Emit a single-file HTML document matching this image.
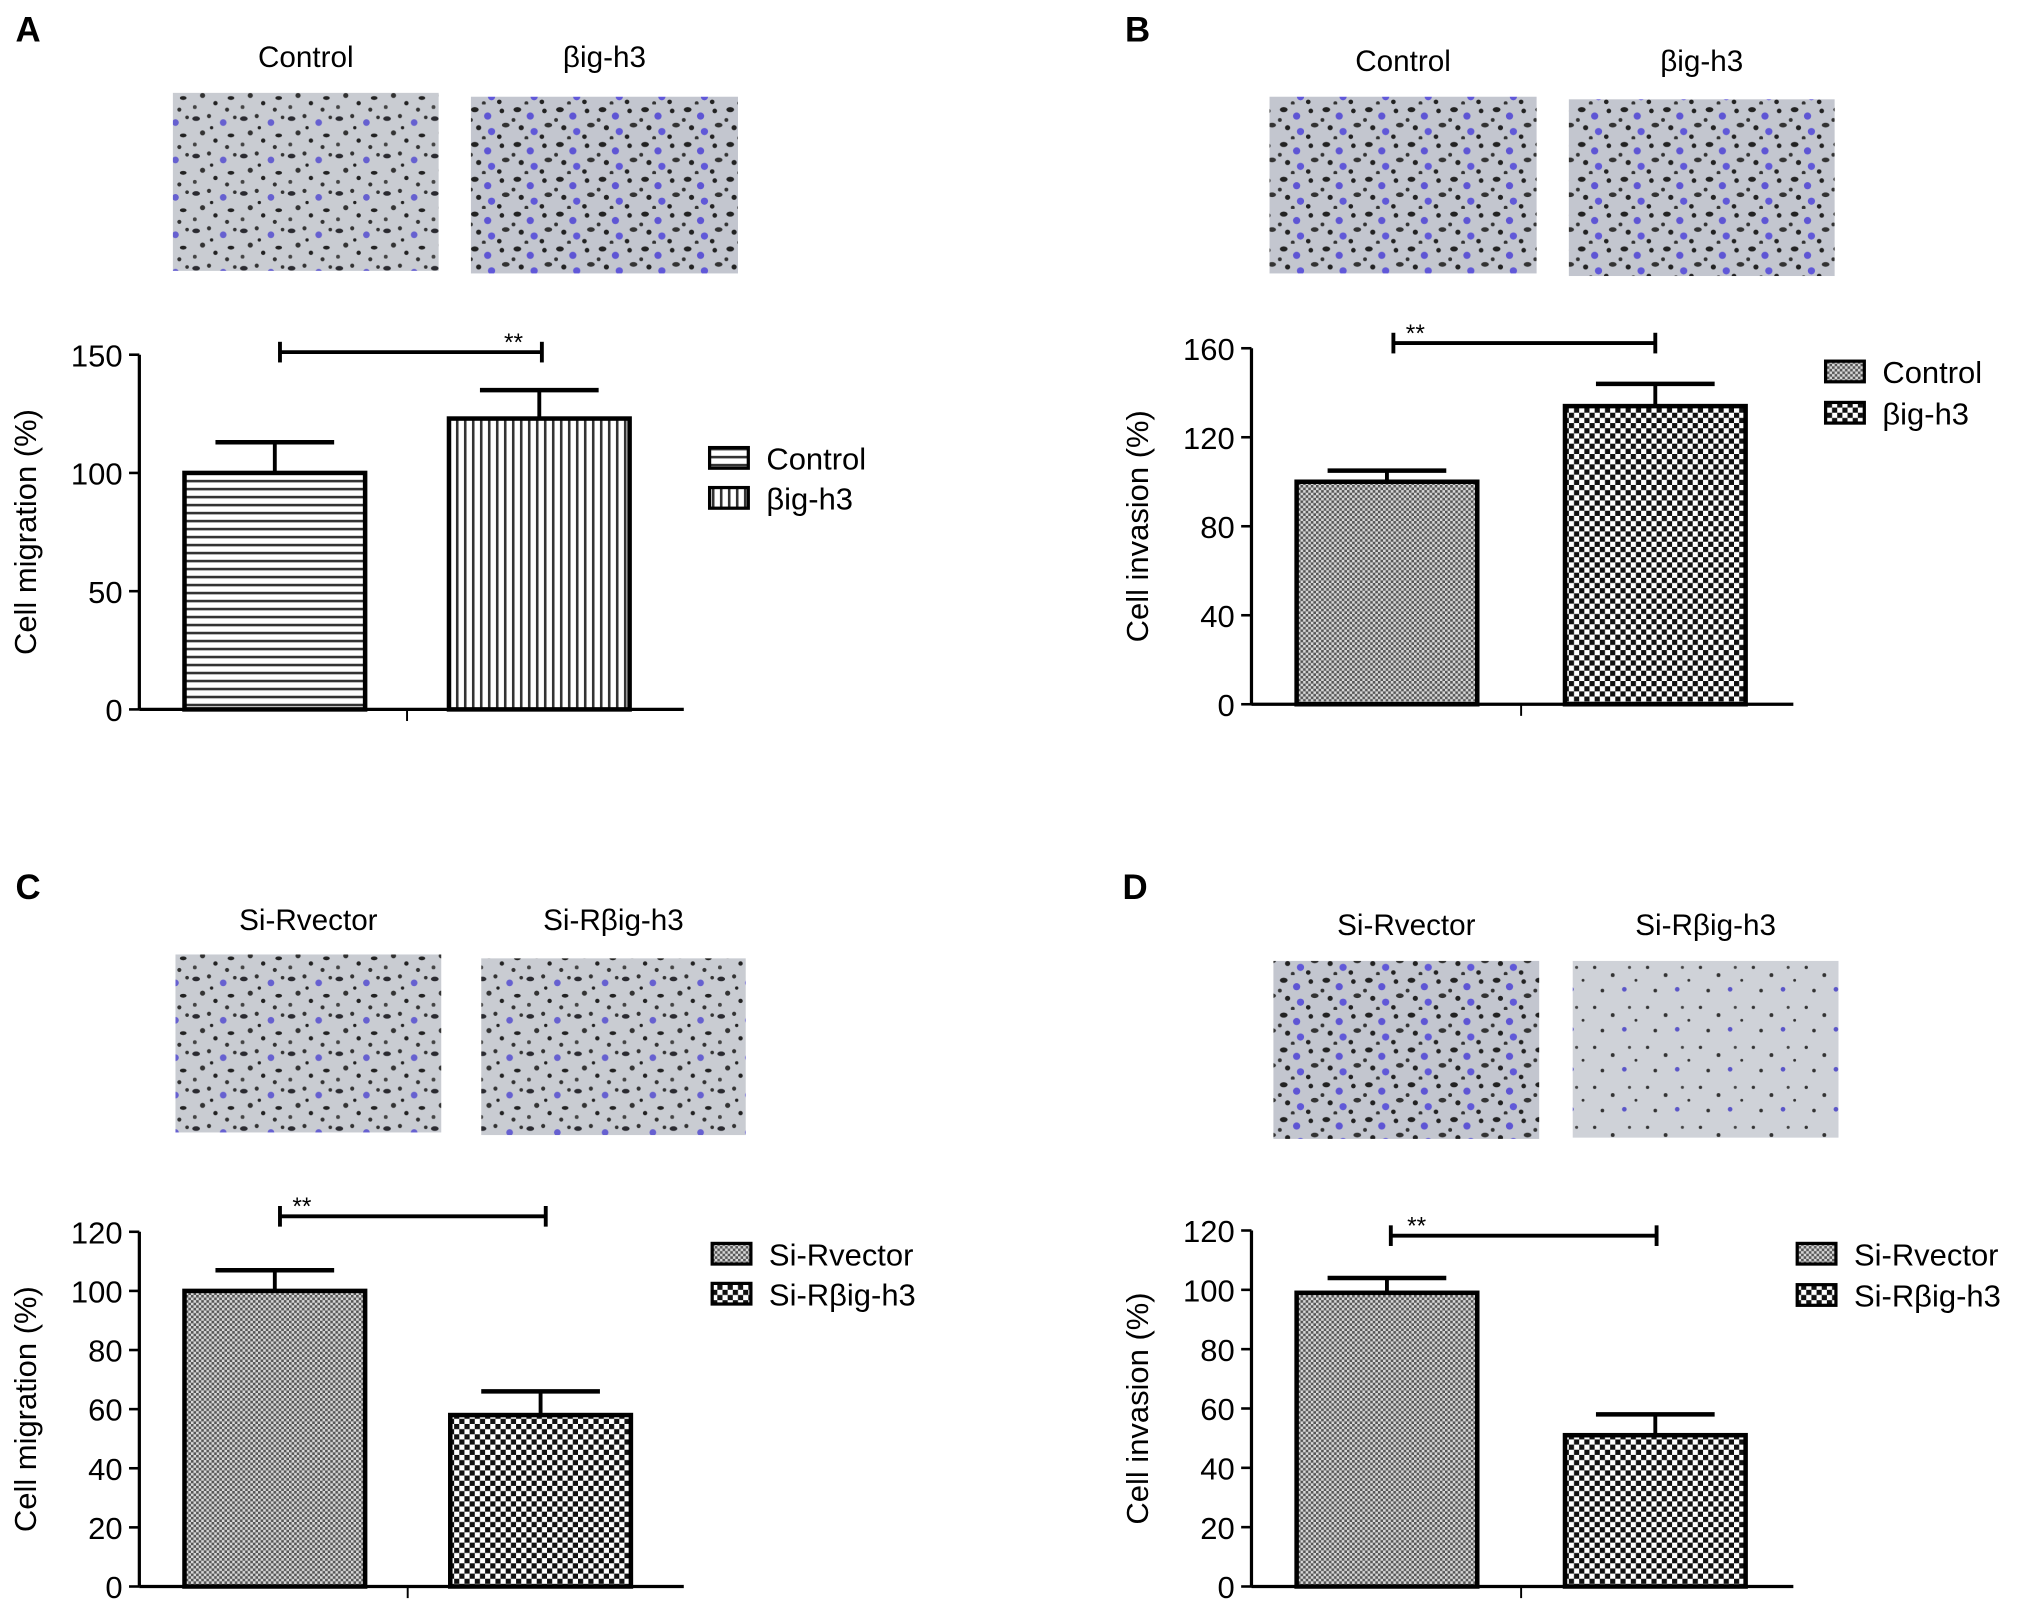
<!DOCTYPE html>
<html><head><meta charset="utf-8"><style>
html,body{margin:0;padding:0;background:#fff;}
svg{display:block;font-family:"Liberation Sans",Arial,sans-serif;}
</style></head><body>
<svg id="fig" width="2023" height="1611" viewBox="0 0 1568 1249" preserveAspectRatio="none" xmlns="http://www.w3.org/2000/svg">
<defs>
<pattern id="hlines" width="6" height="6.2" patternUnits="userSpaceOnUse"><rect width="6" height="6.2" fill="#fff"/><rect y="0" width="6" height="2" fill="#333"/></pattern>
<pattern id="vlines" width="6.2" height="6" patternUnits="userSpaceOnUse"><rect width="6.2" height="6" fill="#fff"/><rect x="0" width="2" height="6" fill="#333"/></pattern>
<pattern id="fine" width="4" height="4" patternUnits="userSpaceOnUse"><rect width="4" height="4" fill="#d8d8d8"/><rect width="2" height="2" fill="#555"/><rect x="2" y="2" width="2" height="2" fill="#555"/></pattern>
<pattern id="coarse" width="8" height="8" patternUnits="userSpaceOnUse"><rect width="8" height="8" fill="#fff"/><rect width="4" height="4" fill="#111"/><rect x="4" y="4" width="4" height="4" fill="#111"/></pattern>
<pattern id="cells1" width="37" height="29" patternUnits="userSpaceOnUse"><rect width="37" height="29" fill="#c9ccd2"/>
<ellipse cx="4" cy="5" rx="3" ry="1.8" fill="#2a2a30"/><circle cx="14" cy="3" r="1.6" fill="#333"/><circle cx="25" cy="8" r="2.6" fill="#6660d0"/><ellipse cx="31" cy="18" rx="2.6" ry="1.5" fill="#222"/><circle cx="9" cy="16" r="2" fill="#333"/><circle cx="19" cy="22" r="1.7" fill="#222"/><circle cx="3" cy="25" r="1.5" fill="#444"/><circle cx="28" cy="27" r="1.6" fill="#333"/><circle cx="16" cy="12" r="1.3" fill="#222"/><circle cx="34" cy="4" r="1.4" fill="#333"/></pattern>
<pattern id="cells2" width="33" height="27" patternUnits="userSpaceOnUse"><rect width="33" height="27" fill="#c3c6cf"/>
<ellipse cx="5" cy="4" rx="3" ry="2" fill="#222"/><circle cx="15" cy="9" r="2.8" fill="#5e55d4"/><circle cx="26" cy="5" r="1.8" fill="#222"/><ellipse cx="29" cy="16" rx="3" ry="1.8" fill="#333"/><circle cx="8" cy="18" r="2" fill="#222"/><circle cx="18" cy="21" r="2.8" fill="#6058d8"/><circle cx="2" cy="12" r="1.5" fill="#333"/><circle cx="24" cy="25" r="1.8" fill="#222"/><circle cx="12" cy="26" r="1.5" fill="#333"/></pattern>
<pattern id="cells3" width="41" height="31" patternUnits="userSpaceOnUse"><rect width="41" height="31" fill="#cfd2d8"/>
<circle cx="6" cy="6" r="1.3" fill="#333"/><circle cx="20" cy="12" r="1.5" fill="#333"/><circle cx="33" cy="6" r="1.2" fill="#444"/><circle cx="12" cy="24" r="1.4" fill="#333"/><circle cx="29" cy="23" r="1.8" fill="#5a55c8"/><circle cx="38" cy="16" r="1.1" fill="#333"/></pattern>
</defs>
<g id="root"></g>
</svg>
<script>
// Panel A data
const catsA = ["Control", "βig-h3"];
const valsA = [100, 123];
const errA = [13, 12];
const ticksA = [0, 50, 100, 150];
// Panel B data
const catsB = ["Control", "βig-h3"];
const valsB = [100, 134];
const errB = [5, 10];
const ticksB = [0, 40, 80, 120, 160];
// Panel C data
const catsC = ["Si-Rvector", "Si-Rβig-h3"];
const valsC = [100, 58];
const errC = [7, 8];
const ticksC = [0, 20, 40, 60, 80, 100, 120];
// Panel D data
const catsD = ["Si-Rvector", "Si-Rβig-h3"];
const valsD = [99, 51];
const errD = [5, 7];
const ticksD = [0, 20, 40, 60, 80, 100, 120];

const NS = "http://www.w3.org/2000/svg";
const root = document.getElementById("root");
function mk(tag, attrs, parent) {
  const e = document.createElementNS(NS, tag);
  for (const k in attrs) e.setAttribute(k, attrs[k]);
  (parent || root).appendChild(e);
  return e;
}

const panels = [
  {id:"a", letter:"A", lx:12, ly:32, cats:catsA, vals:valsA, errs:errA, ticks:ticksA, ax:108, y0:550, yTop:275, max:150, bx:[143,348], bw:140, xEnd:530, ytitle:"Cell migration (%)",
   fills:["url(#hlines)","url(#vlines)"], sig:{y:273,x1:217,x2:420,sx:398}, leg:{x:550,y:347,dy:31},
   imgs:[{x:134,y:72,w:206,h:138,p:"url(#cells1)"},{x:365,y:75,w:207,h:137,p:"url(#cells2)"}], titleY:52},
  {id:"b", letter:"B", lx:872, ly:32, cats:catsB, vals:valsB, errs:errB, ticks:ticksB, ax:970, y0:546, yTop:270, max:160, bx:[1005,1213], bw:140, xEnd:1390, ytitle:"Cell invasion (%)",
   fills:["url(#fine)","url(#coarse)"], sig:{y:266,x1:1080,x2:1283,sx:1097}, leg:{x:1415,y:280,dy:32},
   imgs:[{x:984,y:75,w:207,h:137,p:"url(#cells2)"},{x:1216,y:77,w:206,h:137,p:"url(#cells2)"}], titleY:55},
  {id:"c", letter:"C", lx:12, ly:697, cats:catsC, vals:valsC, errs:errC, ticks:ticksC, ax:108, y0:1230, yTop:955, max:120, bx:[143,349], bw:140, xEnd:530, ytitle:"Cell migration (%)",
   fills:["url(#fine)","url(#coarse)"], sig:{y:943,x1:217,x2:423,sx:234}, leg:{x:552,y:964,dy:31},
   imgs:[{x:136,y:740,w:206,h:138,p:"url(#cells1)"},{x:373,y:743,w:205,h:137,p:"url(#cells1)"}], titleY:721},
  {id:"d", letter:"D", lx:870, ly:697, cats:catsD, vals:valsD, errs:errD, ticks:ticksD, ax:970, y0:1230, yTop:954, max:120, bx:[1005,1213], bw:140, xEnd:1390, ytitle:"Cell invasion (%)",
   fills:["url(#fine)","url(#coarse)"], sig:{y:958,x1:1078,x2:1284,sx:1098}, leg:{x:1393,y:964,dy:32},
   imgs:[{x:987,y:745,w:206,h:138,p:"url(#cells2)"},{x:1219,y:745,w:206,h:137,p:"url(#cells3)"}], titleY:725}
];

panels.forEach(P => {
  const g = mk("g", {});
  
  
  const yScale = v => P.y0 - (v / P.max) * (P.y0 - P.yTop);
  const lab = mk("text", {x:P.lx, y:P.ly, "font-size":27, "font-weight":"bold"}, g);
  lab.textContent = P.letter;
  
  
  P.imgs.forEach((im, i) => {
    const r = mk("rect", {x:im.x, y:im.y, width:im.w, height:im.h, fill:im.p}, g);
    
    
    const t = mk("text", {x:im.x + im.w/2, y:P.titleY, "font-size":23, "text-anchor":"middle"}, g);
    t.textContent = P.cats[i];
    
    
  });
  const ya = mk("line", {x1:P.ax, y1:yScale(P.ticks[P.ticks.length-1]), x2:P.ax, y2:P.y0, stroke:"#000", "stroke-width":2.5}, g);
  
  
  const xa = mk("line", {x1:P.ax, y1:P.y0, x2:P.xEnd, y2:P.y0, stroke:"#000", "stroke-width":2.5}, g);
  
  
  const mid = (P.bx[0] + P.bw + P.bx[1]) / 2;
  mk("line", {x1:mid, y1:P.y0, x2:mid, y2:P.y0+9, stroke:"#000", "stroke-width":1.5}, g);
  P.ticks.forEach(t => {
    const y = yScale(t);
    mk("line", {x1:P.ax-8, y1:y, x2:P.ax, y2:y, stroke:"#000", "stroke-width":2}, g);
    const tl = mk("text", {x:P.ax-13, y:y+9, "font-size":24, "text-anchor":"end"}, g);
    tl.textContent = t;
    
    
  });
  const cy = (P.y0 + yScale(P.ticks[P.ticks.length-1])) / 2;
  const yt = mk("text", {x:P.ax-80, y:cy, "font-size":24, "text-anchor":"middle", transform:"rotate(-90 " + (P.ax-80) + " " + cy + ")"}, g);
  yt.textContent = P.ytitle;
  
  
  P.vals.forEach((v, i) => {
    const x = P.bx[i], y = yScale(v);
    const ec = x + P.bw/2, ey = yScale(v + P.errs[i]);
    mk("line", {x1:ec, y1:y, x2:ec, y2:ey, stroke:"#000", "stroke-width":3}, g);
    mk("line", {x1:ec-46, y1:ey, x2:ec+46, y2:ey, stroke:"#000", "stroke-width":3.5}, g);
    const b = mk("rect", {x:x, y:y, width:P.bw, height:P.y0 - y, fill:P.fills[i], stroke:"#000", "stroke-width":3.5}, g);
    
    
  });
  const s = P.sig;
  mk("line", {x1:s.x1, y1:s.y, x2:s.x2, y2:s.y, stroke:"#000", "stroke-width":3}, g);
  mk("line", {x1:s.x1, y1:s.y-8, x2:s.x1, y2:s.y+8, stroke:"#000", "stroke-width":3}, g);
  mk("line", {x1:s.x2, y1:s.y-8, x2:s.x2, y2:s.y+8, stroke:"#000", "stroke-width":3}, g);
  const st = mk("text", {x:s.sx, y:s.y-1, "font-size":19, "text-anchor":"middle"}, g);
  st.textContent = "**";
  
  
  P.cats.forEach((c, i) => {
    const ly = P.leg.y + i * P.leg.dy;
    const lr = mk("rect", {x:P.leg.x, y:ly, width:30, height:16, fill:P.fills[i], stroke:"#000", "stroke-width":2.5}, g);
    
    
    const lt = mk("text", {x:P.leg.x + 44, y:ly + 17, "font-size":24}, g);
    lt.textContent = c;
    
    
  });
});
</script>
</body></html>
